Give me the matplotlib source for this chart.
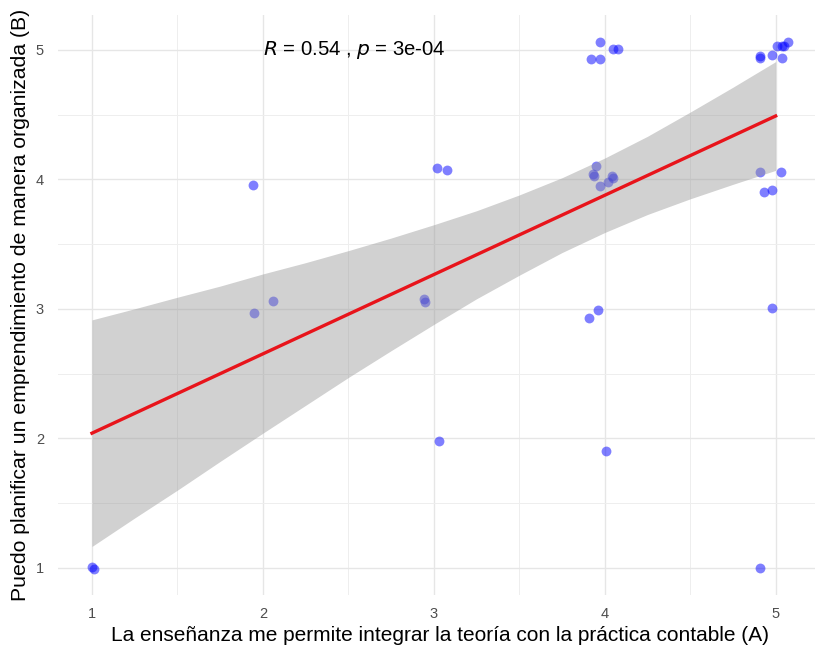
import numpy as np
import matplotlib
matplotlib.use("Agg")
import matplotlib.pyplot as plt

teoria_practica = [1.00, 1.01, 1.94, 1.95, 2.06, 2.94, 2.95, 3.02, 3.08, 3.03,
                   3.91, 3.96, 4.01, 3.95, 3.94, 3.93, 4.04, 4.05, 4.02, 3.97,
                   3.97, 4.05, 4.08, 3.92, 3.97,
                   4.91, 4.91, 4.98, 5.04, 5.01, 5.04, 5.07, 5.05,
                   4.91, 5.03, 4.93, 4.98, 4.98, 4.91]
emprendimiento = [1.01, 0.99, 3.96, 2.97, 3.06, 3.08, 3.05, 4.09, 4.07, 1.98,
                  2.93, 2.99, 1.90, 4.10, 4.03, 4.04, 4.03, 4.01, 3.98, 3.95,
                  5.06, 5.01, 5.01, 4.93, 4.93,
                  4.94, 4.95, 4.96, 4.94, 5.03, 5.03, 5.06, 5.03,
                  4.06, 4.06, 3.90, 3.92, 3.01, 1.00]

# linear fit and its 95% confidence band
fit_x = [1, 5]
fit_y = [2.04, 4.49]
band_x = [1.0, 1.25, 1.5, 1.75, 2.0, 2.25, 2.5, 2.75, 3.0, 3.25, 3.5,
          3.75, 4.0, 4.25, 4.5, 4.75, 5.0]
band_lo = [1.165, 1.385, 1.60, 1.822, 2.04, 2.255, 2.47, 2.677, 2.88, 3.078,
           3.26, 3.435, 3.59, 3.729, 3.85, 3.962, 4.07]
band_hi = [2.915, 3.001, 3.09, 3.176, 3.27, 3.357, 3.45, 3.547, 3.65, 3.758,
           3.88, 4.013, 4.165, 4.333, 4.52, 4.712, 4.91]

label_r = "0.54"
label_p = "3e-04"
ticks = [1, 2, 3, 4, 5]

plt.rcParams['font.family'] = ['Liberation Sans', 'DejaVu Sans']

fig = plt.figure(figsize=(8.15, 6.47), dpi=100)
ax = fig.add_axes([57.8 / 815, 52 / 647, 764 / 815, 580 / 647])

ax.scatter(teoria_practica, emprendimiento, s=50, color='blue', alpha=0.5,
           linewidths=0, zorder=3)
ax.fill_between(band_x, band_lo, band_hi, color='#999999', alpha=0.45,
                linewidth=0, zorder=4)
ax.plot(fit_x, fit_y, color='#e8141b', linewidth=2.4, zorder=5)

ax.text(2, 5, f"$R$ = {label_r} , $p$ = {label_p}", fontsize=14.6,
        ha='left', va='center', zorder=6)

ax.set_xlim(0.8, 5.27)
ax.set_ylim(0.79, 5.27)
ax.set_xticks(ticks)
ax.set_yticks(ticks)
ax.set_xticks(np.arange(1.5, 5.0, 1), minor=True)
ax.set_yticks(np.arange(1.5, 5.0, 1), minor=True)
ax.grid(which='major', color='#e6e6e6', linewidth=1.0)
ax.grid(which='minor', color='#eeeeee', linewidth=0.7)
ax.set_axisbelow(True)
for s in ax.spines.values():
    s.set_visible(False)
ax.tick_params(which='both', length=0, labelsize=10.5, labelcolor='#4d4d4d')
ax.tick_params(axis='x', pad=9)
ax.tick_params(axis='y', pad=10)

ax.set_xlabel("La enseñanza me permite integrar la teoría con la práctica contable (A)",
              fontsize=15, labelpad=3)
ax.set_ylabel("Puedo planificar un emprendimiento de manera organizada (B)",
              fontsize=15.3, labelpad=4)

fig.savefig("out.png", dpi=100)
